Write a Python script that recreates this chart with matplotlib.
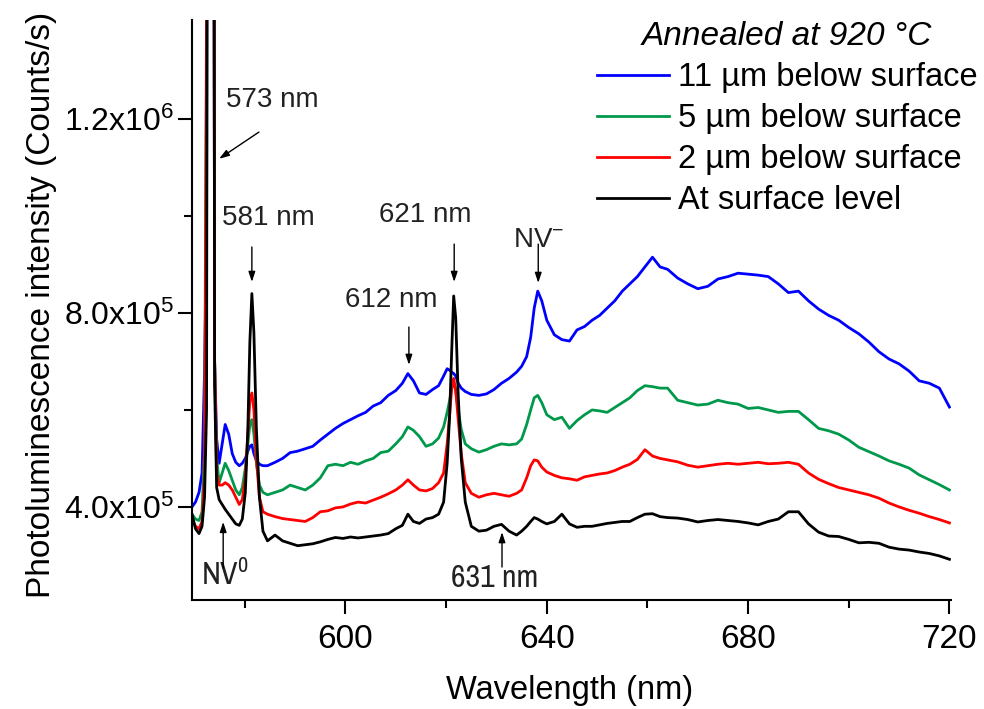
import numpy as np
import matplotlib
matplotlib.use("Agg")
import matplotlib.pyplot as plt
from matplotlib import font_manager

# PL spectra, intensity in units of 1e5 counts/s
wavelength = [
    569.5, 570.2, 570.9, 571.5, 572.0, 572.4, 572.8, 573.2, 573.6, 574.0,
    574.4, 574.9, 575.5, 576.1, 576.8, 577.5, 578.2, 578.9, 579.5, 580.1,
    580.6, 581.0, 581.4, 581.8, 582.3, 582.9, 583.6, 584.5,
    586.0, 587.5, 589.0, 590.5, 592.0, 593.5, 595.0, 596.5, 598.0, 599.5,
    601.0, 602.5, 604.0, 605.5, 607.0, 608.5, 610.0, 611.3, 612.4, 613.5,
    614.7, 616.0, 617.3, 618.5, 619.5,
    620.2, 620.7, 621.1, 621.5, 621.9, 622.4, 623.0, 623.8,
    625.0, 626.5, 628.0, 629.5, 631.0, 632.5, 634.0, 635.0, 636.0, 636.8,
    637.5, 638.2, 639.0, 640.0, 641.5, 643.0, 644.5, 646.0, 647.5, 649.0,
    650.5, 652.0, 653.5, 655.0, 656.5, 658.0, 659.5, 661.0, 662.5, 664.0,
    666, 668, 670, 672, 674, 676, 678, 680, 682, 684,
    686, 688, 690, 692, 694, 696, 698, 700, 702, 704,
    706, 708, 710, 712, 714, 716, 718, 720,
]

depth_11um = [
    4.0, 4.1, 4.3, 4.7, 6.8, 9.5, 40, 60, 40, 7.0,
    5.4, 4.9, 5.3, 5.7, 5.5, 5.1, 4.92, 4.85, 4.9, 5.0,
    5.15, 5.25, 5.28, 5.1, 4.95, 4.88, 4.85, 4.85,
    4.92, 5.0, 5.12, 5.15, 5.2, 5.25, 5.38, 5.5, 5.62, 5.72,
    5.8, 5.88, 5.95, 6.08, 6.15, 6.3, 6.4, 6.55, 6.75, 6.6,
    6.35, 6.32, 6.42, 6.5, 6.7,
    6.85, 6.82, 6.78, 6.75, 6.7, 6.55, 6.45, 6.38,
    6.32, 6.3, 6.33, 6.42, 6.55, 6.65, 6.78, 6.9, 7.1, 7.5,
    8.1, 8.45, 8.25, 7.85, 7.55, 7.45, 7.42, 7.65, 7.72, 7.85,
    7.95, 8.1, 8.25, 8.45, 8.6, 8.75, 8.95, 9.15, 8.95, 8.9,
    8.72, 8.6, 8.5, 8.55, 8.7, 8.75, 8.82, 8.8, 8.78, 8.75,
    8.6, 8.42, 8.45, 8.25, 8.08, 7.95, 7.85, 7.7, 7.57, 7.4,
    7.2, 7.05, 6.95, 6.8, 6.6, 6.55, 6.45, 6.06,
]

depth_5um = [
    3.85, 3.75, 3.72, 3.9, 5.2, 14.5, 42, 60, 40, 7.0,
    5.0, 4.5, 4.7, 4.9, 4.75, 4.55, 4.35, 4.25, 4.4, 4.8,
    5.3, 5.7, 5.8, 5.5, 4.9, 4.45, 4.3, 4.25,
    4.3, 4.35, 4.45, 4.4, 4.35, 4.45, 4.6, 4.85, 4.88, 4.85,
    4.92, 4.88, 4.95, 5.0, 5.12, 5.15, 5.3, 5.45, 5.65, 5.58,
    5.45, 5.25, 5.3, 5.42, 5.65,
    5.95, 6.2, 6.45, 6.55, 6.4, 6.0, 5.6, 5.3,
    5.2, 5.13, 5.18, 5.25, 5.3, 5.28, 5.3, 5.4, 5.7, 6.0,
    6.25, 6.3, 6.15, 5.9, 5.8, 5.85, 5.62, 5.78, 5.9, 6.0,
    5.98, 5.95, 6.05, 6.15, 6.25, 6.4, 6.5, 6.48, 6.45, 6.45,
    6.2, 6.15, 6.1, 6.12, 6.2, 6.15, 6.12, 6.03, 6.05, 6.0,
    5.95, 5.97, 5.97, 5.8, 5.62, 5.57, 5.5, 5.38, 5.23, 5.14,
    5.05, 4.95, 4.88, 4.8, 4.66, 4.56, 4.46, 4.35,
]

depth_2um = [
    3.75, 3.6, 3.55, 3.7, 4.6, 13.2, 42, 60, 40, 7.0,
    4.7, 4.45, 4.45, 4.5, 4.45, 4.35, 4.2, 4.05, 4.15, 4.6,
    5.5, 6.2, 6.35, 6.0, 5.0, 4.2, 3.9, 3.85,
    3.8, 3.76, 3.74, 3.72, 3.7, 3.78, 3.9, 3.92, 3.98, 4.0,
    4.06, 4.1, 4.08, 4.14, 4.2, 4.27, 4.35, 4.45, 4.56, 4.45,
    4.35, 4.33, 4.38, 4.5, 4.7,
    5.3, 5.9, 6.45, 6.65, 6.4, 5.8, 5.1, 4.5,
    4.28, 4.2, 4.25, 4.28, 4.25, 4.22, 4.28, 4.35, 4.6, 4.85,
    4.97, 4.95, 4.82, 4.72, 4.65, 4.6, 4.58, 4.55, 4.62, 4.65,
    4.68, 4.7, 4.75, 4.82, 4.88, 4.98, 5.18, 5.05, 5.0, 4.97,
    4.93, 4.86, 4.82, 4.85, 4.88, 4.9, 4.88, 4.9, 4.92, 4.89,
    4.9, 4.92, 4.88, 4.7, 4.57, 4.48, 4.4, 4.35, 4.3, 4.25,
    4.18, 4.08, 4.0, 3.93, 3.87, 3.8, 3.74, 3.67,
]

surface = [
    3.85, 3.55, 3.45, 3.6, 4.2, 6.0, 40, 60, 40, 6.5,
    4.4, 4.15, 4.05, 3.95, 3.85, 3.75, 3.65, 3.62, 3.75, 4.3,
    5.6, 7.4, 8.4, 7.6, 5.6, 4.2, 3.5, 3.3,
    3.42, 3.3, 3.25, 3.2, 3.22, 3.24, 3.28, 3.33, 3.37, 3.35,
    3.38, 3.36, 3.38, 3.4, 3.42, 3.45, 3.55, 3.62, 3.85, 3.7,
    3.66, 3.75, 3.78, 3.85, 4.1,
    4.9, 5.9, 7.2, 8.35, 7.9, 6.3, 5.0, 4.1,
    3.6, 3.5, 3.52, 3.6, 3.64, 3.5, 3.42, 3.5, 3.6, 3.7,
    3.78, 3.75, 3.7, 3.65, 3.7, 3.85, 3.65, 3.58, 3.6, 3.6,
    3.63, 3.66, 3.68, 3.7, 3.7, 3.78, 3.85, 3.86, 3.8, 3.78,
    3.77, 3.74, 3.69, 3.72, 3.74, 3.72, 3.7, 3.67, 3.63, 3.7,
    3.75, 3.9, 3.9, 3.65, 3.48, 3.4, 3.39, 3.33, 3.26, 3.27,
    3.25, 3.17, 3.13, 3.11, 3.07, 3.04, 2.99, 2.92,
]

labels = ["11 µm below surface", "5 µm below surface",
          "2 µm below surface", "At surface level"]
colors = ["#0000ff", "#00994c", "#ff0000", "#000000"]

# peak labels: text, text position (nm, 1e5), arrow tail, arrow head
peak_notes = [
    ("573 nm", (585.4, 12.39), (582.8, 11.73), (574.9, 11.18)),
    ("581 nm", (584.6, 9.96), (581.4, 9.36), (581.4, 8.64)),
    ("621 nm", (615.8, 10.02), (621.6, 9.42), (621.6, 8.64)),
    ("612 nm", (609.1, 8.27), (612.6, 7.71), (612.6, 6.93)),
    ("NV$^{-}$", (638.3, 9.50), (638.3, 9.42), (638.3, 8.62)),
]
low_notes = [
    ("NV$^{0}$", (576.1, 2.60), (575.7, 2.74), (575.7, 3.69)),
    ("631 nm", (629.7, 2.54), (631.1, 2.76), (631.1, 3.48)),
]

names = {f.name for f in font_manager.fontManager.ttflist}
narrow = "Archivo Narrow" if "Archivo Narrow" in names else "Liberation Sans"

plt.rcParams["font.family"] = ["Liberation Sans", "DejaVu Sans"]
plt.rcParams["mathtext.default"] = "regular"

fig = plt.figure(figsize=(9.84, 7.09), dpi=100)
ax = fig.add_axes([0.1951, 0.1537, 0.7713, 0.818])

wl = np.array(wavelength)
series = [depth_11um, depth_5um, depth_2um, surface]
for vals, lab, col in zip(series, labels, colors):
    ax.plot(wl, np.array(vals) * 1e5, color=col, lw=2.0, label=lab)

ax.set_xlim(569.5, 720.3)
ax.set_ylim(2.08e5, 14.04e5)

for side in ["top", "right"]:
    ax.spines[side].set_visible(False)
for side in ["left", "bottom"]:
    ax.spines[side].set_linewidth(1.5)

ax.set_xticks([600, 640, 680, 720])
ax.set_xticks([580, 620, 660, 700], minor=True)
ax.set_yticks([4e5, 8e5, 12e5])
ax.set_yticks([6e5, 10e5], minor=True)
ax.set_yticklabels(["4.0x10$^{5}$", "8.0x10$^{5}$", "1.2x10$^{6}$"])
ax.tick_params(which="major", direction="out", length=10, width=1.5)
ax.tick_params(which="minor", direction="out", length=6, width=1.5)
ax.tick_params(axis="y", labelsize=23, pad=3)
ax.tick_params(axis="x", labelsize=24, pad=7)

fig.text(42 / 984, 1 - 305 / 709, "Photoluminescence intensity (Counts/s)",
         rotation=90, ha="center", va="center", fontsize=24)
fig.text(570 / 984, 1 - 690 / 709, "Wavelength (nm)", ha="center", va="center",
         fontsize=23.5)

arrow = dict(arrowstyle="-|>,head_length=0.6,head_width=0.2", color="black", lw=1.0,
             shrinkA=0, shrinkB=0)
for txt, tpos, tail, head in peak_notes:
    ax.text(tpos[0], tpos[1] * 1e5, txt, ha="center", va="center", fontsize=20,
            color="#222222")
    ax.annotate("", xy=(head[0], head[1] * 1e5), xytext=(tail[0], tail[1] * 1e5),
                arrowprops=arrow)
for txt, tpos, tail, head in low_notes:
    ax.text(tpos[0], tpos[1] * 1e5, txt, ha="center", va="center", fontsize=23,
            color="#222222", family=narrow)
    ax.annotate("", xy=(head[0], head[1] * 1e5), xytext=(tail[0], tail[1] * 1e5),
                arrowprops=arrow)

leg = fig.legend(loc="upper left", bbox_to_anchor=(597 / 984, 1 - 21 / 709),
                 frameon=False, fontsize=23.5, handlelength=2.2, handletextpad=0.28,
                 labelspacing=0.31, borderaxespad=0, borderpad=0,
                 title="Annealed at 920 °C",
                 title_fontproperties={"size": 24, "style": "italic"})
for h in leg.get_lines():
    h.set_linewidth(2.0)

fig.savefig("out.png", dpi=100)
